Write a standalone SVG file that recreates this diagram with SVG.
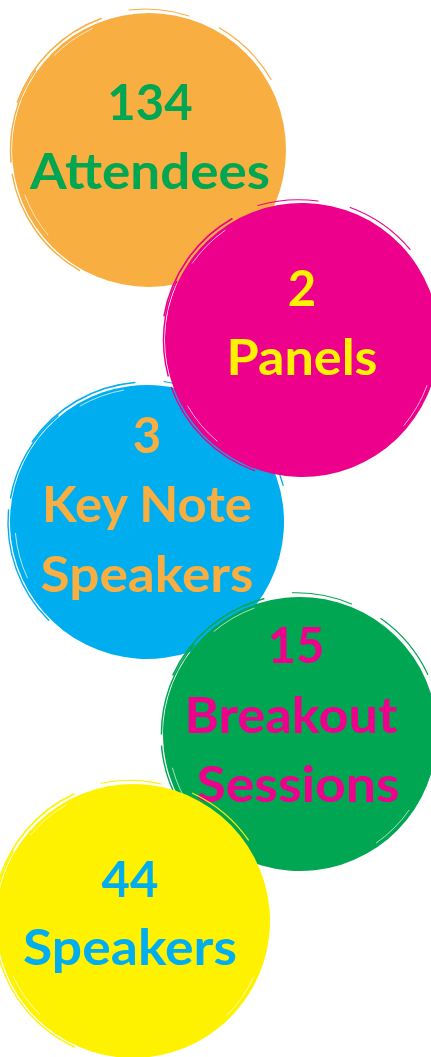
<svg xmlns="http://www.w3.org/2000/svg" xmlns:xlink="http://www.w3.org/1999/xlink" width="431" height="1057" viewBox="0 0 431 1057">
  <style>
    .lbl { font-family: "Lato", "Liberation Sans", sans-serif; font-weight: 700; font-size: 49px; text-anchor: middle; }
    .brush { fill: none; stroke: currentColor; stroke-linecap: round; }
    .scratch { fill: none; stroke: #ffffff; stroke-linecap: round; stroke-width: 0.8; opacity: 0.8; }
  </style>
  <defs>
    <g id="blob">
      <circle r="137" fill="currentColor"/>
      <path class="brush" stroke-width="1.6" d="M-131.6,-47.9 A140,140 0 0 1 -47.9,-131.6"/>
      <path class="brush" stroke-width="1.4" d="M-69.5,120.4 A139,139 0 0 1 -136.9,24.1"/>
      <path class="brush" stroke-width="1.2" d="M70.5,-122.1 A141,141 0 0 1 122.1,-70.5"/>
      <path class="brush" stroke-width="1.5" d="M-138,12.1 A138.5,138.5 0 0 1 -113.4,-79.5"/>
      <path class="brush" stroke-width="1" d="M-20,-140 A140,140 0 0 1 40,-134"/>
      <path class="scratch" d="M-101.1,84.9 A132,132 0 0 1 -124.1,45.1"/>
      <path class="scratch" d="M-94.7,-94.7 A134,134 0 0 1 -56.7,-121.4"/>
      <path class="scratch" d="M115.2,66.5 A133,133 0 0 1 85.5,101.9"/>
    </g>
  </defs>

  <g id="node-attendees">
    <use xlink:href="#blob" transform="translate(149,150)" style="color:#F9AE42"/>
    <text class="lbl" x="150" y="120" fill="#00A651">134</text>
    <text class="lbl" x="150" y="189" fill="#00A651" textLength="240" lengthAdjust="spacingAndGlyphs">Attendees</text>
  </g>

  <g id="node-keynote">
    <use xlink:href="#blob" transform="translate(147,522) rotate(15)" style="color:#00AEEF"/>
    <text class="lbl" x="147" y="453" fill="#F9AE42">3</text>
    <text class="lbl" x="147" y="522" fill="#F9AE42" textLength="210" lengthAdjust="spacingAndGlyphs">Key Note</text>
    <text class="lbl" x="147" y="592" fill="#F9AE42" textLength="213" lengthAdjust="spacingAndGlyphs">Speakers</text>
  </g>

  <g id="node-panels">
    <use xlink:href="#blob" transform="translate(302,340) rotate(-10)" style="color:#EC008C"/>
    <text class="lbl" x="302" y="306" fill="#FFF200">2</text>
    <text class="lbl" x="302" y="375" fill="#FFF200" textLength="151" lengthAdjust="spacingAndGlyphs">Panels</text>
  </g>

  <g id="node-breakout">
    <use xlink:href="#blob" transform="translate(300,734) rotate(5)" style="color:#00A651"/>
    <text class="lbl" x="296" y="663" fill="#EC008C">15</text>
    <text class="lbl" x="291" y="733" fill="#EC008C" textLength="213" lengthAdjust="spacingAndGlyphs">Breakout</text>
    <text class="lbl" x="298" y="802" fill="#EC008C" textLength="203" lengthAdjust="spacingAndGlyphs">Sessions</text>
  </g>

  <g id="node-speakers">
    <use xlink:href="#blob" transform="translate(133,921) rotate(-5)" style="color:#FFF200"/>
    <text class="lbl" x="130" y="897" fill="#00AEEF">44</text>
    <text class="lbl" x="130" y="965" fill="#00AEEF" textLength="214" lengthAdjust="spacingAndGlyphs">Speakers</text>
  </g>

  <g id="connectors"/>
</svg>
